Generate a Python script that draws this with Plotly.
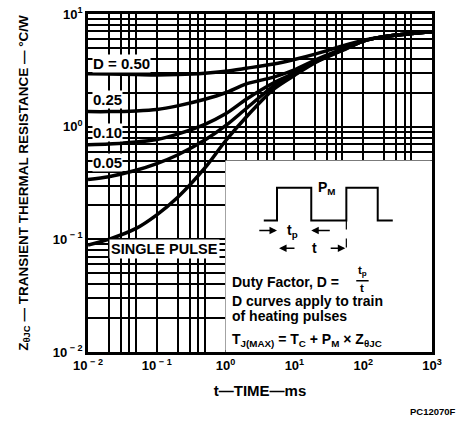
import math
import plotly.graph_objects as go

# ---- data ----
t_ms = [0.01, 0.02, 0.05, 0.1, 0.2, 0.5, 1, 2, 5, 10, 20, 50, 100, 200, 500, 1000]
z_d50 = [2.95, 2.93, 2.90, 2.88, 2.90, 2.98, 3.10, 3.30, 3.60, 3.95, 4.40, 5.20, 5.85, 6.30, 6.70, 6.95]
z_d25 = [1.36, 1.36, 1.38, 1.42, 1.53, 1.75, 2.00, 2.40, 2.75, 3.20, 3.90, 4.90, 5.75, 6.30, 6.70, 6.95]
z_d10 = [0.69, 0.70, 0.73, 0.77, 0.86, 1.05, 1.30, 1.75, 2.45, 3.00, 3.80, 4.80, 5.75, 6.30, 6.70, 6.95]
z_d05 = [0.34, 0.36, 0.41, 0.47, 0.56, 0.76, 1.02, 1.45, 2.30, 2.95, 3.75, 4.80, 5.75, 6.30, 6.70, 6.95]
z_single = [0.089, 0.100, 0.125, 0.165, 0.235, 0.43, 0.75, 1.22, 2.15, 2.85, 3.70, 4.75, 5.75, 6.30, 6.70, 6.95]

curve_labels = ["D = 0.50", "0.25", "0.10", "0.05"]
label_y = [3.67, 1.73, 0.88, 0.476]

x_tickvals = [0.01, 0.1, 1, 10, 100, 1000]
x_ticktext = ["10<sup> − 2</sup>", "10<sup> − 1</sup>", "10<sup>0</sup>", "10<sup>1</sup>", "10<sup>2</sup>", "10<sup>3</sup>"]
y_tickvals = [0.01, 0.1, 1, 10]
y_ticktext = ["10<sup> − 2</sup>", "10<sup> − 1</sup>", "10<sup>0</sup>", "10<sup>1</sup>"]

x_minor_mult = [2, 3, 4, 5]
y_minor_mult = [2, 3, 4, 5, 6, 7, 8, 9]

# pulse schematic (inset units 0..100)
pulse_x = [18.5, 24.9, 24.9, 41.5, 41.5, 58.5, 58.5, 73.7, 73.7, 81.0]
pulse_y = [68.75, 68.75, 85.9, 85.9, 68.75, 68.75, 85.9, 85.9, 68.75, 68.75]

FONT = "Liberation Sans, Arial, sans-serif"

x_minor = [m * 10 ** e for e in range(-2, 3) for m in x_minor_mult]
y_minor = [m * 10 ** e for e in range(-2, 1) for m in y_minor_mult]

fig = go.Figure()
for z in [z_d50, z_d25, z_d10, z_d05, z_single]:
    fig.add_trace(go.Scatter(x=t_ms, y=z, mode="lines",
                             line=dict(color="black", width=3.5, shape="spline", smoothing=0.8),
                             hoverinfo="skip", showlegend=False, xaxis="x", yaxis="y"))

fig.update_layout(
    width=459, height=421,
    margin=dict(l=88, r=27, t=14, b=69),
    paper_bgcolor="white", plot_bgcolor="white",
    font=dict(family=FONT, color="black", size=12),
    xaxis=dict(type="log", range=[-2, 3], tickvals=x_tickvals, ticktext=x_ticktext,
               showgrid=True, gridcolor="black", gridwidth=2,
               showline=True, linecolor="black", linewidth=2.5, mirror=True,
               ticks="", tickfont=dict(size=13, weight=700), automargin=False,
               minor=dict(tickvals=x_minor, showgrid=True, gridcolor="black", gridwidth=1.6, ticks=""),
               title=dict(text="t—TIME—ms", font=dict(size=15, weight=700), standoff=14),
               zeroline=False, fixedrange=True),
    yaxis=dict(type="log", range=[-2, 1], tickvals=y_tickvals, ticktext=y_ticktext,
               showgrid=True, gridcolor="black", gridwidth=2,
               showline=True, linecolor="black", linewidth=2.5, mirror=True,
               ticks="", tickfont=dict(size=13, weight=700), automargin=False,
               minor=dict(tickvals=y_minor, showgrid=True, gridcolor="black", gridwidth=1.6, ticks=""),
               title=dict(text="Z<sub>θJC</sub> — TRANSIENT THERMAL RESISTANCE — °C/W",
                          font=dict(size=13.5, weight=700), standoff=22),
               zeroline=False, fixedrange=True),
    xaxis2=dict(domain=[0.4, 1.0], range=[0, 100], anchor="y2", visible=False, fixedrange=True),
    yaxis2=dict(domain=[0.0, 0.566], range=[0, 100], anchor="x2", visible=False, fixedrange=True),
)

# white inset panel over the grid
fig.add_shape(type="rect", xref="x domain", yref="y domain", x0=0.4, x1=0.995, y0=0.006, y1=0.566,
              fillcolor="white", line=dict(width=0), layer="above")

# pulse waveform drawn on top of the panel
path = "M " + " L ".join(f"{px},{py}" for px, py in zip(pulse_x, pulse_y))
fig.add_shape(type="path", xref="x2", yref="y2", path=path,
              line=dict(color="black", width=2), layer="above")
fig.add_shape(type="line", xref="x2", yref="y2", x0=58.5, x1=58.5, y0=68.75, y1=52,
              line=dict(color="black", width=1.2, dash="dash"), layer="above")
fig.add_shape(type="line", xref="x2", yref="y2", x0=63.3, x1=69.3, y0=37.2, y1=37.2,
              line=dict(color="black", width=1.5), layer="above")

# curve labels
for txt, yv in zip(curve_labels, label_y):
    fig.add_annotation(x=-1.94, y=math.log10(yv), xref="x", yref="y",
                       text=txt, showarrow=False, xanchor="left", yanchor="middle",
                       bgcolor="white", borderpad=0,
                       font=dict(size=15, weight=700))
fig.add_annotation(x=-0.895, y=math.log10(0.082), xref="x", yref="y",
                   text="SINGLE PULSE", showarrow=False, xanchor="center", yanchor="middle",
                   bgcolor="white", borderpad=1, font=dict(size=14.5, weight=700))

# inset annotations
ins = dict(xref="x2", yref="y2", showarrow=False, font=dict(size=14, weight=700))
fig.add_annotation(x=49.3, y=85.9, text="P<sub>M</sub>", xanchor="center", yanchor="middle", **ins)
fig.add_annotation(x=32.2, y=63.5, text="t<sub>p</sub>", xanchor="center", yanchor="middle", **ins)
fig.add_annotation(x=42.9, y=54.2, text="t", xanchor="center", yanchor="middle", **ins)
arr = dict(xref="x2", yref="y2", axref="x2", ayref="y2", text="", showarrow=True,
           arrowhead=2, arrowsize=1, arrowwidth=1.5, arrowcolor="black")
fig.add_annotation(x=24.9, y=63.5, ax=15.6, ay=63.5, **arr)
fig.add_annotation(x=41.5, y=63.5, ax=51.2, ay=63.5, **arr)
fig.add_annotation(x=25.9, y=54.2, ax=34.1, ay=54.2, **arr)
fig.add_annotation(x=58.0, y=54.2, ax=50.2, ay=54.2, **arr)

fig.add_annotation(x=2, y=36.5, text="Duty Factor, D =", xanchor="left", yanchor="middle", **ins)
frac = dict(xref="x2", yref="y2", showarrow=False, font=dict(size=11.5, weight=700))
fig.add_annotation(x=66.3, y=42.3, text="t<sub>p</sub>", xanchor="center", yanchor="middle", **frac)
fig.add_annotation(x=66.3, y=33.2, text="t", xanchor="center", yanchor="middle", **frac)
fig.add_annotation(x=2, y=26.6, text="D curves apply to train", xanchor="left", yanchor="middle", **ins)
fig.add_annotation(x=2, y=19.0, text="of heating pulses", xanchor="left", yanchor="middle", **ins)
fig.add_annotation(x=2, y=6.5,
                   text="T<sub>J(MAX)</sub> = T<sub>C</sub> + P<sub>M</sub> × Z<sub>θJC</sub>",
                   xanchor="left", yanchor="middle", **ins)

fig.add_annotation(x=1.0, y=0.0, xref="paper", yref="paper", xanchor="right", yanchor="bottom",
                   xshift=26, yshift=-67, text="PC12070F", showarrow=False,
                   font=dict(size=9.5, weight=700))

fig.write_html("out.html")
